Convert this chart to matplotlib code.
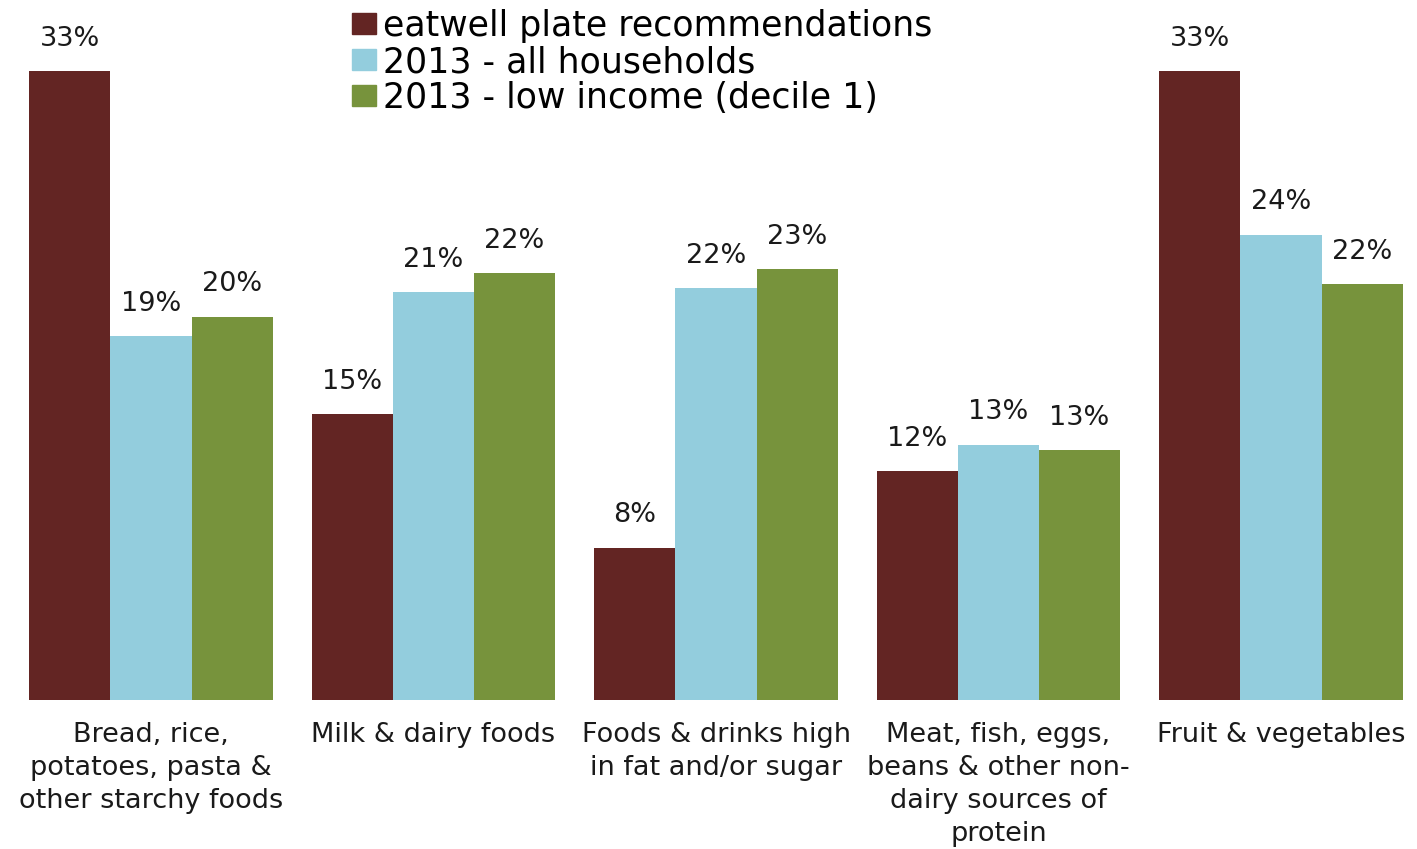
import matplotlib.pyplot as plt
from matplotlib.patches import Patch
import numpy as np

categories = ["Bread, rice,\npotatoes, pasta &\nother starchy foods",
              "Milk & dairy foods",
              "Foods & drinks high\nin fat and/or sugar",
              "Meat, fish, eggs,\nbeans & other non-\ndairy sources of\nprotein",
              "Fruit & vegetables"]
series_names = ["eatwell plate recommendations",
                "2013 - all households",
                "2013 - low income (decile 1)"]
eatwell = [33, 15, 8, 12, 33]
all_households = [19.1, 21.4, 21.6, 13.4, 24.4]
low_income = [20.1, 22.4, 22.6, 13.1, 21.8]

colors = ["#632523", "#93CDDD", "#77933C"]

fig = plt.figure(figsize=(14.17, 8.49), dpi=100)
ax = fig.add_axes([0, 149/849, 1, 700/849])

x = np.arange(len(categories))
w = 0.287
for i, (vals, c) in enumerate(zip([eatwell, all_households, low_income], colors)):
    bars = ax.bar(x + (i - 1) * w, vals, width=w, color=c, linewidth=0)
    ax.bar_label(bars, labels=[f"{v:.0f}%" for v in vals], padding=14,
                 fontsize=19.5, color="#1a1a1a")

ax.set_xlim(-151/282.5, 1266/282.5)
ax.set_ylim(0, 700/19.06)
ax.set_xticks(x)
ax.set_xticklabels(categories, fontsize=19.5, color="#1a1a1a", linespacing=1.34)
ax.tick_params(axis="x", length=0, pad=16)
ax.set_yticks([])
for s in ax.spines.values():
    s.set_visible(False)

handles = [Patch(color=c) for c in colors]
fig.legend(handles, series_names, loc="upper left",
           bbox_to_anchor=(352/1417, 1 - 9/849), frameon=False,
           fontsize=25, handlelength=0.7, handleheight=0.55,
           handletextpad=0.2, labelspacing=0.06, borderpad=0,
           borderaxespad=0)

fig.savefig("out.png", dpi=100)
